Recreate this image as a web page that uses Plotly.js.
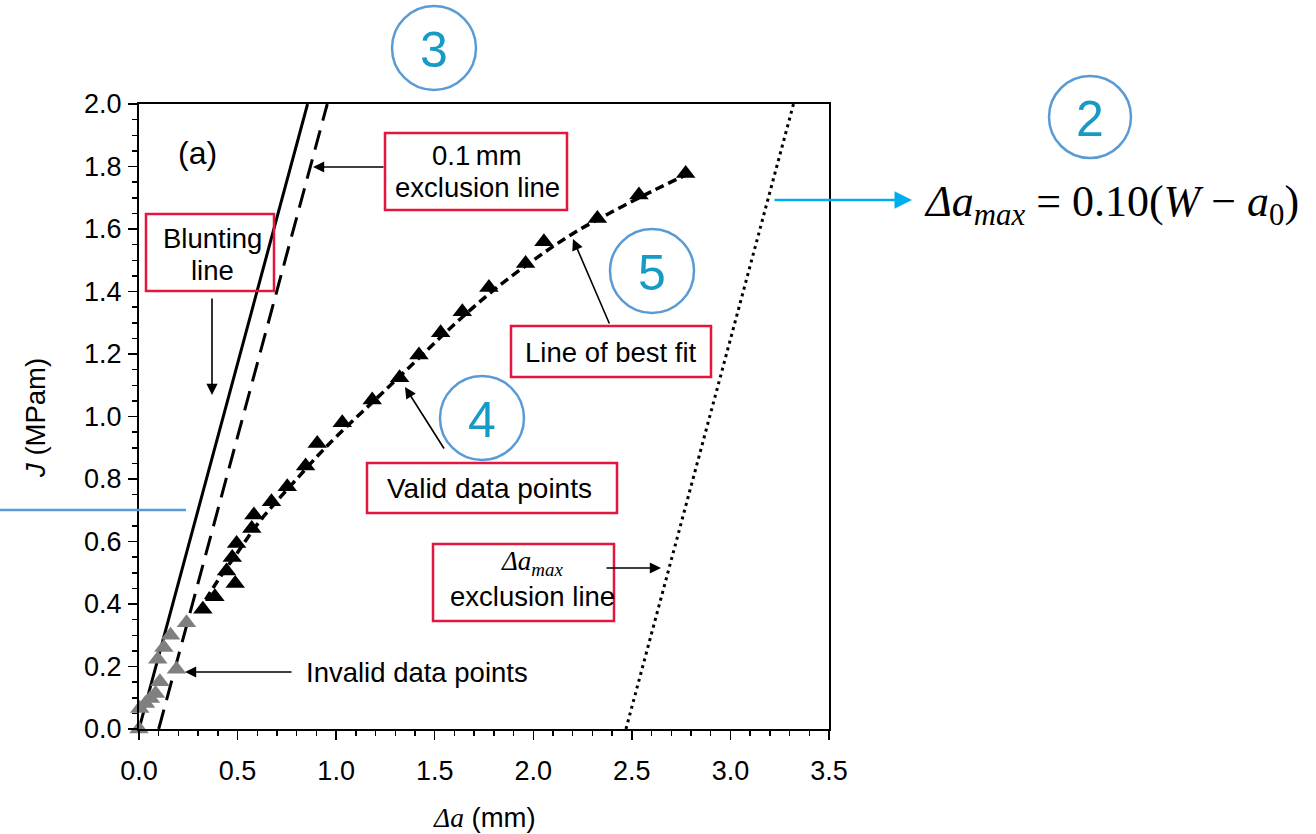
<!DOCTYPE html>
<html>
<head>
<meta charset="utf-8">
<script src="https://cdn.plot.ly/plotly-3.0.1.min.js"></script>
<style>html,body{margin:0;padding:0;background:#fff;}#chart{width:1316px;height:834px;}</style>
</head>
<body>
<div id="chart"></div>
<script>
// ---- data ----
const validX = [0.324, 0.385, 0.444, 0.488, 0.473, 0.495, 0.572, 0.583, 0.672, 0.752, 0.845, 0.904, 1.031, 1.183, 1.322, 1.420, 1.530, 1.640, 1.775, 1.961, 2.054, 2.325, 2.536, 2.773];
const validY = [0.383, 0.423, 0.506, 0.466, 0.549, 0.594, 0.642, 0.685, 0.727, 0.775, 0.842, 0.914, 0.980, 1.053, 1.124, 1.197, 1.268, 1.335, 1.413, 1.490, 1.559, 1.634, 1.709, 1.778];
const invalidX = [0.000, 0.004, 0.033, 0.058, 0.084, 0.106, 0.190, 0.095, 0.126, 0.160, 0.241];
const invalidY = [0.000, 0.066, 0.082, 0.098, 0.114, 0.151, 0.191, 0.223, 0.261, 0.300, 0.340];
const fitX = [0.30, 0.40, 0.50, 0.60, 0.70, 0.80, 0.90, 1.00, 1.20, 1.40, 1.60, 1.80, 2.00, 2.20, 2.40, 2.60, 2.78];
const fitY = [0.375, 0.475, 0.565, 0.655, 0.730, 0.800, 0.870, 0.935, 1.055, 1.175, 1.295, 1.405, 1.500, 1.585, 1.655, 1.720, 1.775];
const bluntX = [0.0, 0.855];
const bluntY = [0.0, 2.0];
const excl01X = [0.1, 0.955];
const excl01Y = [0.0, 2.0];
const exclMaxX = [2.47, 3.32];
const exclMaxY = [0.0, 2.0];
const xTickVals = [0, 0.5, 1.0, 1.5, 2.0, 2.5, 3.0, 3.5];
const xTickText = ['0.0', '0.5', '1.0', '1.5', '2.0', '2.5', '3.0', '3.5'];
const yTickVals = [0, 0.2, 0.4, 0.6, 0.8, 1.0, 1.2, 1.4, 1.6, 1.8, 2.0];
const yTickText = ['0.0', '0.2', '0.4', '0.6', '0.8', '1.0', '1.2', '1.4', '1.6', '1.8', '2.0'];

// ---- layout helpers (pixel -> paper) ----
const L = 139, T = 104, PW = 690, PH = 625;
function px(x) { return (x - L) / PW; }
function py(y) { return (T + PH - y) / PH; }
const SANS = 'Liberation Sans, Arial, sans-serif';
const SERIF = 'Liberation Serif, Times New Roman, serif';
const RED = '#e2163f';
const CIRC = '#5b9bd5';
const NUM = '#169bc6';

const traces = [
  {x: bluntX, y: bluntY, mode: 'lines', line: {color: 'black', width: 3}, hoverinfo: 'skip'},
  {x: excl01X, y: excl01Y, mode: 'lines', line: {color: 'black', width: 3, dash: '20px,10px'}, hoverinfo: 'skip'},
  {x: exclMaxX, y: exclMaxY, mode: 'lines', line: {color: 'black', width: 3, dash: '3px,4px'}, hoverinfo: 'skip'},
  {x: fitX, y: fitY, mode: 'lines', line: {color: 'black', width: 3.5, dash: '9px,5px', shape: 'spline'}, hoverinfo: 'skip'},
  {x: validX, y: validY, mode: 'markers', marker: {symbol: 'triangle-up', size: 17, color: 'black'}, cliponaxis: false},
  {x: invalidX, y: invalidY, mode: 'markers', marker: {symbol: 'triangle-up', size: 17, color: '#7f7f7f'}, cliponaxis: false}
];

function rect(x0, y0, x1, y1) {
  return {type: 'rect', xref: 'paper', yref: 'paper', x0: px(x0), x1: px(x1), y0: py(y1), y1: py(y0),
          line: {color: RED, width: 2.5}, fillcolor: 'rgba(0,0,0,0)', layer: 'above'};
}
function circ(cx, cy, r) {
  return {type: 'circle', xref: 'paper', yref: 'paper', x0: px(cx - r), x1: px(cx + r), y0: py(cy + r), y1: py(cy - r),
          line: {color: CIRC, width: 2.5}, fillcolor: 'rgba(0,0,0,0)', layer: 'above'};
}
function txt(x, y, text, size, family, color) {
  return {xref: 'paper', yref: 'paper', x: px(x), y: py(y), text: text, showarrow: false,
          xanchor: 'center', yanchor: 'middle', font: {size: size, family: family || SANS, color: color || 'black'}};
}
function arrow(tx, ty, fx, fy, color, w) {
  return {xref: 'paper', yref: 'paper', x: px(tx), y: py(ty), ax: fx - tx, ay: fy - ty, axref: 'pixel', ayref: 'pixel',
          text: '', showarrow: true, arrowhead: 2, arrowsize: 1.4, arrowwidth: w || 1.6, arrowcolor: color || 'black', standoff: 0, startstandoff: 0};
}

const shapes = [
  rect(146, 214, 274, 291),
  rect(385, 133, 567, 210),
  rect(511, 326, 711, 377),
  rect(367, 463, 617, 513),
  rect(433, 544, 614, 621),
  circ(434, 48, 42),
  circ(1090, 117, 41),
  circ(652, 271, 42),
  circ(482, 418, 42),
  {type: 'line', xref: 'paper', yref: 'paper', x0: px(0), x1: px(186), y0: py(510), y1: py(510),
   line: {color: CIRC, width: 2.5}}
];

const annotations = [
  txt(197, 153, '(a)', 32),
  txt(212, 238, 'Blunting', 27.5),
  txt(212, 270, 'line', 27.5),
  txt(477, 155, '0.1\u2009mm', 27.5),
  txt(477, 187, 'exclusion line', 27.5),
  txt(611, 352, 'Line of best fit', 27.5),
  txt(490, 488, 'Valid data points', 28),
  txt(532, 563, '<i>Δa</i><sub><i>max</i></sub>', 27, SERIF),
  txt(532, 596, 'exclusion line', 27.5),
  txt(417, 672, 'Invalid data points', 27.5),
  txt(434, 50, '3', 50, SANS, NUM),
  txt(1090, 119, '2', 50, SANS, NUM),
  txt(652, 273, '5', 50, SANS, NUM),
  txt(482, 420, '4', 50, SANS, NUM),
  txt(1111, 205, '<i>Δa</i><sub><i>max</i></sub>\u00a0=\u00a00.10(<i>W</i>\u00a0−\u00a0<i>a</i><sub>0</sub>)', 44, SERIF),
  txt(35, 418, '<i>J</i> (MPam)', 27.5),
  txt(484, 817, '<span style="font-family:Liberation Serif, Times New Roman, serif"><i>Δa</i></span> (mm)', 27.5),
  arrow(212, 395, 212, 297),
  arrow(313, 167, 385, 167),
  arrow(573, 239, 610, 325),
  arrow(405, 387, 445, 450),
  arrow(661, 568, 605, 568),
  arrow(185, 672, 293, 672),
  arrow(912, 200, 773, 200, '#00aeef', 2.5)
];
annotations[15].textangle = -90;

const axisCommon = {
  showgrid: false, zeroline: false, showline: true, linecolor: 'black', linewidth: 2, mirror: true,
  ticks: 'outside', ticklen: 9, tickwidth: 1.5, tickcolor: 'black',
  tickfont: {family: SANS, size: 27, color: 'black'}
};

const layout = {
  width: 1316, height: 834,
  margin: {l: L, r: 1316 - L - PW, t: T, b: 834 - T - PH, pad: 0},
  paper_bgcolor: 'white', plot_bgcolor: 'white',
  showlegend: false,
  xaxis: Object.assign({}, axisCommon, {
    range: [0, 3.5], tickmode: 'array', tickvals: xTickVals, ticktext: xTickText, ticklabelstandoff: 8,
    minor: {dtick: 0.1, tick0: 0, ticks: 'outside', ticklen: 5, tickwidth: 1.5, tickcolor: 'black', showgrid: false}
  }),
  yaxis: Object.assign({}, axisCommon, {
    range: [0, 2], tickmode: 'array', tickvals: yTickVals, ticktext: yTickText, ticklabelstandoff: 1,
    minor: {dtick: 0.05, tick0: 0, ticks: 'outside', ticklen: 5, tickwidth: 1.5, tickcolor: 'black', showgrid: false}
  }),
  shapes: shapes,
  annotations: annotations
};

Plotly.newPlot('chart', traces, layout, {staticPlot: true, displayModeBar: false});
</script>
</body>
</html>
